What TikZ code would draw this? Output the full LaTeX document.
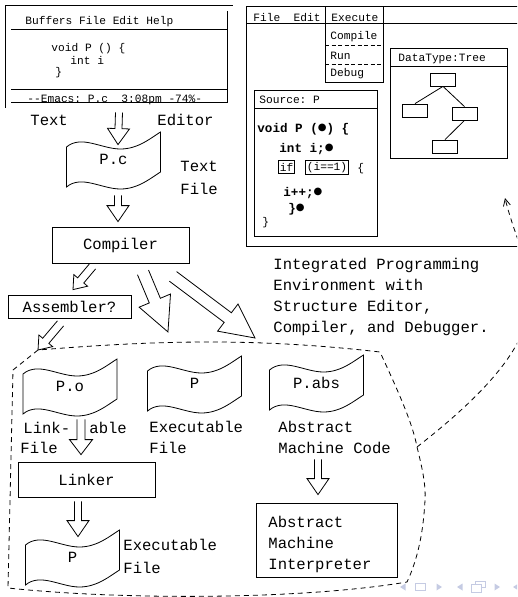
\documentclass[tikz,border=0pt]{standalone}
\usepackage{fontspec}
\setmonofont{Liberation Mono}
\newfontfamily\symfont{DejaVu Sans}
\usetikzlibrary{arrows.meta, calc}
\definecolor{navblue}{HTML}{C5CBE3}

\newcommand{\ttbig}{\fontsize{15.6}{21}\selectfont\ttfamily}
\newcommand{\ttsmall}{\fontsize{11.2}{13}\selectfont\ttfamily}
\newcommand{\ttcode}{\fontsize{12.6}{15}\selectfont\ttfamily\bfseries}
\newcommand{\blob}{\raisebox{1.2pt}{\symfont\fontsize{10}{10}\selectfont ●}}

\newcommand{\hollowarrow}[5]{%
  \draw[line join=miter] let \p1=(#1), \p2=(#2),
    \n1={atan2(\y2-\y1,\x2-\x1)}, \n2={veclen(\x2-\x1,\y2-\y1)} in
    [shift={(\p1)}, rotate=\n1]
    (0,#3) -- ({\n2-#5},#3) -- ({\n2-#5},#4) -- (\n2,0)
    -- ({\n2-#5},-#4) -- ({\n2-#5},-#3) -- (0,-#3);
}

\tikzset{
  txt/.style={anchor=base west, inner sep=0pt},
  smalltxt/.style={txt, font=\ttsmall},
  codetxt/.style={txt, font=\ttcode},
  procbox/.style={draw, inner sep=0pt},
  filenode/.style={minimum width=94pt, minimum height=55pt, inner sep=0pt},
  treebox/.style={draw, minimum width=25pt, minimum height=13pt, inner sep=0pt},
  kwbox/.style={draw, font=\ttsmall, inner sep=1.5pt, minimum height=13pt},
  region/.style={dash pattern=on 5pt off 4pt},
  menudash/.style={dash pattern=on 4pt off 2.5pt},
  pics/wavefile/.style={code={
    \draw (-47,-12.5) .. controls (-32,-25) and (-12,-10.5) .. (7,-10.5)
      .. controls (25,-10.5) and (38,-22) .. (47,-27.5) -- (47,12.5)
      .. controls (38,18) and (25,29.5) .. (7,29.5)
      .. controls (-12,29.5) and (-32,15) .. (-47,27.5) -- cycle;
  }}
}

\begin{document}
\begin{tikzpicture}[x=1pt, y=-1pt, line width=0.8pt, every node/.style={font=\ttbig}]
\path[use as bounding box] (0,0) rectangle (517,597);
\clip (0,0) rectangle (517,597);

\node[draw, double, double distance=5pt, minimum width=222pt, minimum height=97pt, inner sep=0pt] (emacs) at (119,56.5) {};
\draw (11,29) -- (227,29);
\draw (11,89) -- (227,89);
\node[smalltxt] (emacsmenu) at (25,24.5) {Buffers File Edit Help};
\node[smalltxt] (emacsline1) at (51,51.5) {void P () \{};
\node[smalltxt] (emacsline2) at (70,64.5) {int i};
\node[smalltxt] (emacsline3) at (55,75) {\}};
\node[smalltxt] (emacsstatus) at (27,102.5) {-{}-Emacs: P.c\ \ 3:08pm -74\%-};
\node[txt] (edlbl1) at (30,125.5) {Text};
\node[txt] (edlbl2) at (157,125.5) {Editor};

\node[filenode] (pc) at (113.5,159.5) {P.c};
\pic at (pc.center) {wavefile};
\node[txt] (pclbl1) at (180,171.5) {Text};
\node[txt] (pclbl2) at (180,194.5) {File};

\node[procbox, minimum width=137pt, minimum height=36pt] (comp) at (120.5,245) {Compiler};
\node[procbox, minimum width=123pt, minimum height=23pt] (asm) at (69.5,306.5) {Assembler?};

\node[draw, anchor=north west, minimum width=330pt, minimum height=240pt, inner sep=0pt] (ide) at (246,6) {};
\draw (246,23) -- (576,23);
\node[smalltxt] (mfile) at (253,21) {File\ \ Edit};
\node[draw, line width=1pt, minimum width=58pt, minimum height=76pt, inner sep=0pt] (execmenu) at (354,44) {};
\node[smalltxt] (mexec) at (331,21.5) {Execute};
\node[smalltxt] (mcompile) at (330,39.5) {Compile};
\draw[menudash] (325,45) -- (383,45);
\node[smalltxt] (mrun) at (330,59.5) {Run};
\draw[menudash] (325,64) -- (383,64);
\node[smalltxt] (mdebug) at (330,76.5) {Debug};

\node[draw, minimum width=117pt, minimum height=110pt, inner sep=0pt] (treewin) at (448.5,103) {};
\draw (390,66) -- (507,66);
\node[smalltxt] (treetitle) at (398,61.5) {DataType:Tree};
\node[treebox] (troot) at (443,79.5) {};
\node[treebox] (tleft) at (415,110.5) {};
\node[treebox] (tright) at (464.5,113.5) {};
\node[treebox] (tgrand) at (445,146.5) {};
\draw (troot.south) -- (tleft.north);
\draw (troot.south) -- (tright.north);
\draw (tright.south) -- (tgrand.north);

\node[draw, minimum width=123pt, minimum height=146pt, inner sep=0pt] (srcwin) at (315.5,163) {};
\draw (254,108) -- (377,108);
\node[smalltxt] (srctitle) at (259,103.5) {Source: P};
\node[codetxt] (src1) at (257,132) {void P (\blob) \{};
\node[codetxt] (src2) at (279,152) {int i;\blob};
\node[kwbox] (srcif) at (286.5,167) {if};
\node[kwbox] (srccond) at (327,167.5) {(i==1)};
\node[smalltxt] (srcbrace) at (357,171) {\{};
\node[codetxt] (src3) at (283,196) {i++;\blob};
\node[codetxt] (src4) at (288,212) {\}\blob};
\node[smalltxt] (src5) at (262,225) {\}};

\node[txt] (cap1) at (273,269.5) {Integrated Programming};
\node[txt] (cap2) at (273,290.5) {Environment with};
\node[txt] (cap3) at (273,311.5) {Structure Editor,};
\node[txt] (cap4) at (273,332.5) {Compiler, and Debugger.};

\coordinate (regionnw) at (38,350);
\coordinate (regionside) at (417,447);
\coordinate (exectip) at (168,332);
\coordinate (abstip) at (255,338);
\coordinate (idetip) at (505,198);
\draw[region] (13,370) -- (regionnw) .. controls (150,341) and (250,337) .. (380,352)
  .. controls (400,395) and (413,425) .. (regionside)
  .. controls (422,467) and (426,485) .. (425,500)
  .. controls (423,540) and (415,565) .. (407,582)
  .. controls (300,600) and (120,600) .. (8,588) -- cycle;
\draw[region, -{Straight Barb[length=7pt,width=7pt]}] (regionside) .. controls (580,320) and (525,280) .. (idetip);

\node[filenode] (po) at (70,386.5) {P.o};
\pic at (po.center) {wavefile};
\node[txt] (polbl1) at (23,433.5) {Link-};
\node[txt] (polbl2) at (89,433.5) {able};
\node[txt] (polbl3) at (20,453.5) {File};

\node[filenode] (pexe) at (194.5,383.5) {P};
\pic at (pexe.center) {wavefile};
\node[txt] (pexelbl1) at (149,432.5) {Executable};
\node[txt] (pexelbl2) at (149,453.5) {File};

\node[filenode] (pabs) at (316.5,382.5) {P.abs};
\pic at (pabs.center) {wavefile};
\node[txt] (pabslbl1) at (278,432.5) {Abstract};
\node[txt] (pabslbl2) at (278,453.5) {Machine Code};

\node[procbox, minimum width=137pt, minimum height=35pt] (linker) at (86.5,479.5) {Linker};

\node[filenode] (pfinal) at (72.5,557.5) {P};
\pic at (pfinal.center) {wavefile};
\node[txt] (pfinallbl1) at (123,550.5) {Executable};
\node[txt] (pfinallbl2) at (123,573.5) {File};

\node[procbox, minimum width=141pt, minimum height=74pt] (interp) at (326.5,540) {};
\node[txt] (interplbl1) at (268,527.5) {Abstract};
\node[txt] (interplbl2) at (268,548.5) {Machine};
\node[txt] (interplbl3) at (268,569.5) {Interpreter};

\hollowarrow{$(emacs.south)+(0,7)$}{$(pc.north)+(4.5,13)$}{3.5}{11}{16}
\hollowarrow{$(pc.south)+(4.5,8)$}{$(comp.north)+(-2.5,-5)$}{3.5}{11}{16}
\hollowarrow{$(comp.south)+(-28,3)$}{$(asm.north)+(3.5,-5)$}{4}{9}{12}
\hollowarrow{$(asm.south)+(-9,5)$}{regionnw}{4}{9}{12}
\hollowarrow{$(comp.south)+(22.5,9)$}{exectip}{6}{17}{34}
\hollowarrow{$(comp.south)+(52.5,13)$}{abstip}{6}{17}{34}
\hollowarrow{$(po.south)+(11,5)$}{$(linker.north)+(-5.5,-7)$}{4}{11.5}{15}
\hollowarrow{$(linker.south)+(-8.5,4)$}{$(pfinal.north)+(5.5,7)$}{3.5}{11}{16}
\hollowarrow{$(pabs.south)+(1.5,49)$}{$(interp.north)+(-8.5,-8)$}{3.5}{11}{16}

\fill[navblue] (400,587) -- (405.5,583.5) -- (405.5,590.5) -- cycle;
\draw[navblue, line width=1pt] (415.5,583.5) rectangle (425,590.5);
\fill[navblue] (442,587) -- (436.5,583.5) -- (436.5,590.5) -- cycle;
\fill[navblue] (457,587) -- (462.5,583.5) -- (462.5,590.5) -- cycle;
\draw[navblue, line width=1pt, fill=white] (475,581) rectangle (485,587.5);
\draw[navblue, line width=1pt, fill=white] (471,584.5) rectangle (481,592);
\fill[navblue] (500,587) -- (494.5,583.5) -- (494.5,590.5) -- cycle;
\fill[navblue] (513,587) -- (518.5,583.5) -- (518.5,590.5) -- cycle;
\end{tikzpicture}
\end{document}
